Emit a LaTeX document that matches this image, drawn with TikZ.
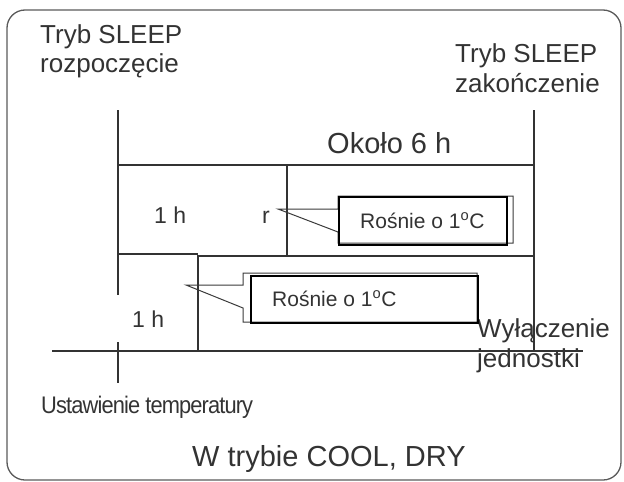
\documentclass[tikz,border=0pt]{standalone}
\usepackage{fontspec}
\setmainfont{Liberation Sans}
\definecolor{ink}{HTML}{333333}
\definecolor{frame}{HTML}{5A5A5A}
\definecolor{thin}{HTML}{3A3A3A}
\begin{document}
\begin{tikzpicture}[x=1pt,y=-1pt,
  mainline/.style={draw=ink,line width=2.8pt},
  lbl/.style={inner sep=0pt,text=ink,font=\fontsize{26}{30}\selectfont,anchor=base west},
  big/.style={lbl,font=\fontsize{29}{33}\selectfont},
  hour/.style={lbl,font=\fontsize{23}{27}\selectfont},
  ctext/.style={lbl,font=\fontsize{21}{24}\selectfont},
  cshape/.style={draw=thin,line width=1pt},
  cbox/.style={draw=black,line width=1.8pt}]
\useasboundingbox (0,0) rectangle (624,482);
\draw[draw=frame,line width=1.3pt,rounded corners=18pt] (7,10) rectangle (621,480);

% texts
\node[lbl] (s1) at (40,43) {Tryb SLEEP};
\node[lbl] (s2) at (40,72) {rozpoczęcie};
\node[lbl] (e1) at (455,62) {Tryb SLEEP};
\node[lbl] (e2) at (455,92) {zakończenie};
\node[big] (ok) at (327,153) {Około 6 h};
\node[hour] (h1) at (154,223) {1 h};
\node[hour] (r) at (262,223) {r};
\node[hour] (h2) at (132,327) {1 h};
\node[lbl] (w1) at (477,337) {Wyłączenie};
\node[lbl] (w2) at (477,367) {jednostki};
\node[lbl,font=\fontsize{24}{28}\selectfont\addfontfeatures{LetterSpace=-4}] (ust) at (41,413) {\scalebox{0.91}[1]{Ustawienie temperatury}};
\node[big] (mode) at (192,466) {W trybie COOL, DRY};

% chart coordinates
\coordinate (aT) at (118,110);
\coordinate (aB) at (118,295);
\coordinate (aT2) at (118,342);
\coordinate (aB2) at (118,383);
\coordinate (bT) at (534,110);
\coordinate (bB) at (534,351);
\coordinate (top1) at (118,165);
\coordinate (top2) at (534,165);
\coordinate (m1) at (287,165);
\coordinate (m2) at (287,256);
\coordinate (s1a) at (118,254);
\coordinate (s1b) at (198,254);
\coordinate (s2a) at (198,256);
\coordinate (s2b) at (534,256);
\coordinate (v2) at (198,351);
\coordinate (base1) at (52,351);
\coordinate (base2) at (583,351);

\draw[mainline] (aT) -- (aB);
\draw[mainline] (aT2) -- (aB2);
\draw[mainline] (bT) -- (bB);
\draw[mainline] (top1) -- (top2);
\draw[mainline] (m1) -- (m2);
\draw[mainline] (s1a) -- (s1b);
\draw[mainline] (v2) -- (s2a) -- (s2b);
\draw[mainline] (base1) -- (base2);

% callout 1
\draw[cshape] (513,196) -- (338,196) -- (338,209) -- (278,209) -- (338,232) -- (338,243) -- (513,243) -- cycle;
\node[cbox,inner sep=0pt,minimum width=168pt,minimum height=48pt,anchor=north west] (c1) at (338,196) {};
\node[ctext] (c1t) at (360,228) {Rośnie o 1\textsuperscript{o}C};

% callout 2
\draw[cshape] (477,273) -- (243,273) -- (243,285) -- (186,285) -- (243,308) -- (243,322) -- (477,322) -- cycle;
\node[cbox,inner sep=0pt,minimum width=227pt,minimum height=47pt,anchor=north west] (c2) at (250,275) {};
\node[ctext] (c2t) at (272,306) {Rośnie o 1\textsuperscript{o}C};
\end{tikzpicture}
\end{document}
